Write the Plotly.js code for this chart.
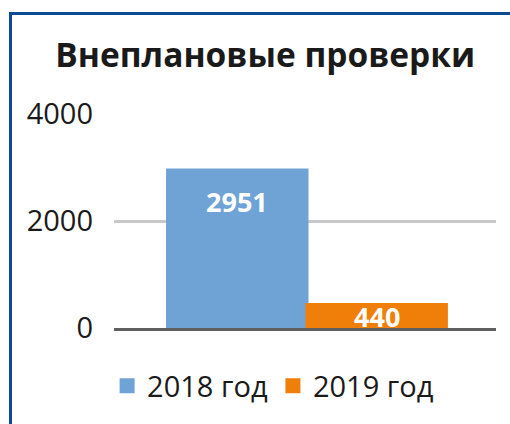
<!DOCTYPE html>
<html><head><meta charset="utf-8">
<script src="https://cdn.plot.ly/plotly-3.0.1.min.js"></script>
<style>
html,body{margin:0;padding:0;background:#fff;overflow:hidden;}
#frame{position:absolute;left:9px;top:12px;width:700px;height:700px;border:3px solid #0b4a94;box-sizing:border-box;}
#chart{position:absolute;left:0;top:0;width:510px;height:424px;}
</style></head>
<body>
<div id="frame"></div>
<div id="chart"></div>
<script>
var categories = [''];
var seriesNames = ['2018 год', '2019 год'];
var values2018 = [2951];
var values2019 = [440];
var seriesColors = ['#6fa3d5', '#f07f09'];
var tickVals = [0, 2000, 4000];
var tickText = ['0', '2000', '4000'];

var font = 'Open Sans, DejaVu Sans, sans-serif';
var bargap = 0.27;
function mk(name, vals, color) {
  return {
    type: 'bar', name: name, x: categories, y: vals,
    marker: {color: color, line: {color: color, width: 3}},
    hoverinfo: 'none'
  };
}
var data = [mk(seriesNames[0], values2018, seriesColors[0]), mk(seriesNames[1], values2019, seriesColors[1])];

// data labels, positioned at each bar's top through the axes
var half = (1 - bargap) / 4;
var labelFont = {family: font, size: 27, color: '#ffffff', weight: 'bold'};
var annotations = [
  {xref: 'x', yref: 'y', x: -half, y: values2018[0], text: '<b>' + values2018[0] + '</b>',
   showarrow: false, yanchor: 'top', yshift: -11, font: labelFont},
  {xref: 'x', yref: 'y', x: half, y: values2019[0], text: '<b>' + values2019[0] + '</b>',
   showarrow: false, yanchor: 'top', yshift: 8, font: labelFont}
];

var layout = {
  width: 510, height: 424,
  margin: {l: 114, r: 14, t: 114, b: 96},
  paper_bgcolor: 'rgba(0,0,0,0)', plot_bgcolor: 'rgba(0,0,0,0)',
  title: {text: '<b>Внеплановые проверки</b>', x: 0.52, xanchor: 'center', y: 0.87, yanchor: 'middle',
          font: {family: font, size: 33.5, color: '#1a1a1a'}},
  barmode: 'group', bargap: bargap, bargroupgap: 0,
  xaxis: {showticklabels: false, showline: true, linecolor: '#5f5f5f', linewidth: 3, ticks: '',
          range: [-0.5052, 0.4948], fixedrange: true},
  yaxis: {range: [0, 4000], tickvals: tickVals, ticktext: tickText, showgrid: true, gridcolor: '#c8c8c8', gridwidth: 3,
          zeroline: false, showline: false, ticks: '', ticklabelstandoff: 20,
          tickfont: {family: font, size: 29, color: '#1a1a1a'}},
  annotations: annotations,
  showlegend: true,
  legend: {orientation: 'h', x: -0.018, xanchor: 'left', y: -0.27, yanchor: 'middle',
           font: {family: font, size: 29, color: '#1a1a1a'}, itemwidth: 30, tracegroupgap: 0}
};
Plotly.newPlot('chart', data, layout, {staticPlot: true});
</script>
</body></html>
